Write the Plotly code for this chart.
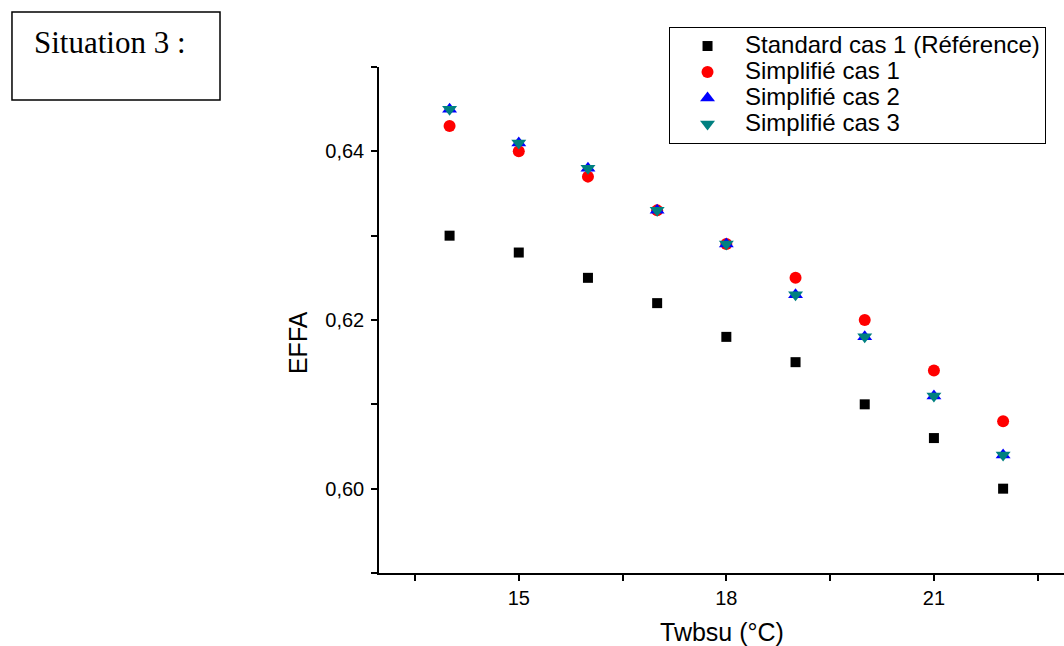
import plotly.graph_objects as go

x_vals = [14, 15, 16, 17, 18, 19, 20, 21, 22]
standard = [0.630, 0.628, 0.625, 0.622, 0.618, 0.615, 0.610, 0.606, 0.600]
simp1 = [0.643, 0.640, 0.637, 0.633, 0.629, 0.625, 0.620, 0.614, 0.608]
simp2 = [0.645, 0.641, 0.638, 0.633, 0.629, 0.623, 0.618, 0.611, 0.604]
simp3 = [0.645, 0.641, 0.638, 0.633, 0.629, 0.623, 0.618, 0.611, 0.604]

names = ["Standard cas 1 (Référence)", "Simplifié cas 1", "Simplifié cas 2", "Simplifié cas 3"]
series = [standard, simp1, simp2, simp3]
symbols = ["square", "circle", "triangle-up", "triangle-down"]
colors = ["#000000", "#ff0000", "#0000ff", "#008080"]
sizes = [10, 12, 13, 13]

x_tickvals = [13.5, 15, 16.5, 18, 19.5, 21, 22.5]
x_ticktext = ["", "15", "", "18", "", "21", ""]
y_tickvals = [0.59, 0.60, 0.61, 0.62, 0.63, 0.64, 0.65]
y_ticktext = ["", "0,60", "", "0,62", "", "0,64", ""]

fig = go.Figure()
for n, s, sym, c, sz in zip(names, series, symbols, colors, sizes):
    fig.add_trace(go.Scatter(x=x_vals, y=s, mode="markers",
                             name='<span style="font-size:24px">' + n + '</span>',
                             marker=dict(symbol=sym, color=c, size=sz, line=dict(width=0))))

font = "Liberation Sans, Arial, sans-serif"
tick_font = dict(family=font, size=20, color="black")
fig.update_layout(
    width=1064, height=646,
    margin=dict(l=379, r=0, t=67, b=73),
    paper_bgcolor="white", plot_bgcolor="white",
    font=dict(family=font, color="black"),
    showlegend=True,
    legend=dict(x=0.4234, y=1.079, xanchor="left", yanchor="top",
                bordercolor="black", borderwidth=1, bgcolor="white",
                font=dict(size=17.7, family=font), itemwidth=65,
                tracegroupgap=0),
    xaxis=dict(range=[12.98, 22.88], showline=True, linecolor="black", linewidth=1.5,
               ticks="outside", ticklen=6, tickcolor="black", tickwidth=1.5,
               tickmode="array", tickvals=x_tickvals, ticktext=x_ticktext,
               showgrid=False, zeroline=False, tickfont=tick_font),
    yaxis=dict(range=[0.59, 0.65], showline=True, linecolor="black", linewidth=1.5,
               ticks="outside", ticklen=6, tickcolor="black", tickwidth=1.5,
               tickmode="array", tickvals=y_tickvals, ticktext=y_ticktext,
               showgrid=False, zeroline=False, tickfont=tick_font, ticklabelstandoff=3),
)

fig.add_annotation(xref="paper", yref="paper", x=0.5, y=-0.1166,
                   xanchor="center", yanchor="middle", showarrow=False,
                   text="Twbsu (°C)", font=dict(family=font, size=25, color="black"))
fig.add_annotation(xref="paper", yref="paper", x=-0.1182, y=0.4545,
                   xanchor="center", yanchor="middle", showarrow=False, textangle=-90,
                   text="EFFA", font=dict(family=font, size=25, color="black"))

fig.add_shape(type="rect", xref="paper", yref="paper",
              x0=-0.5358, x1=-0.2321, y0=0.9348, y1=1.1087,
              line=dict(color="black", width=1.5), fillcolor="rgba(0,0,0,0)")
fig.add_annotation(xref="paper", yref="paper", x=-0.5066, y=1.0494,
                   xanchor="left", yanchor="middle", showarrow=False,
                   text="Situation 3 :",
                   font=dict(family="Liberation Serif, Times New Roman, serif", size=31, color="black"))

fig.write_html("out.html")
